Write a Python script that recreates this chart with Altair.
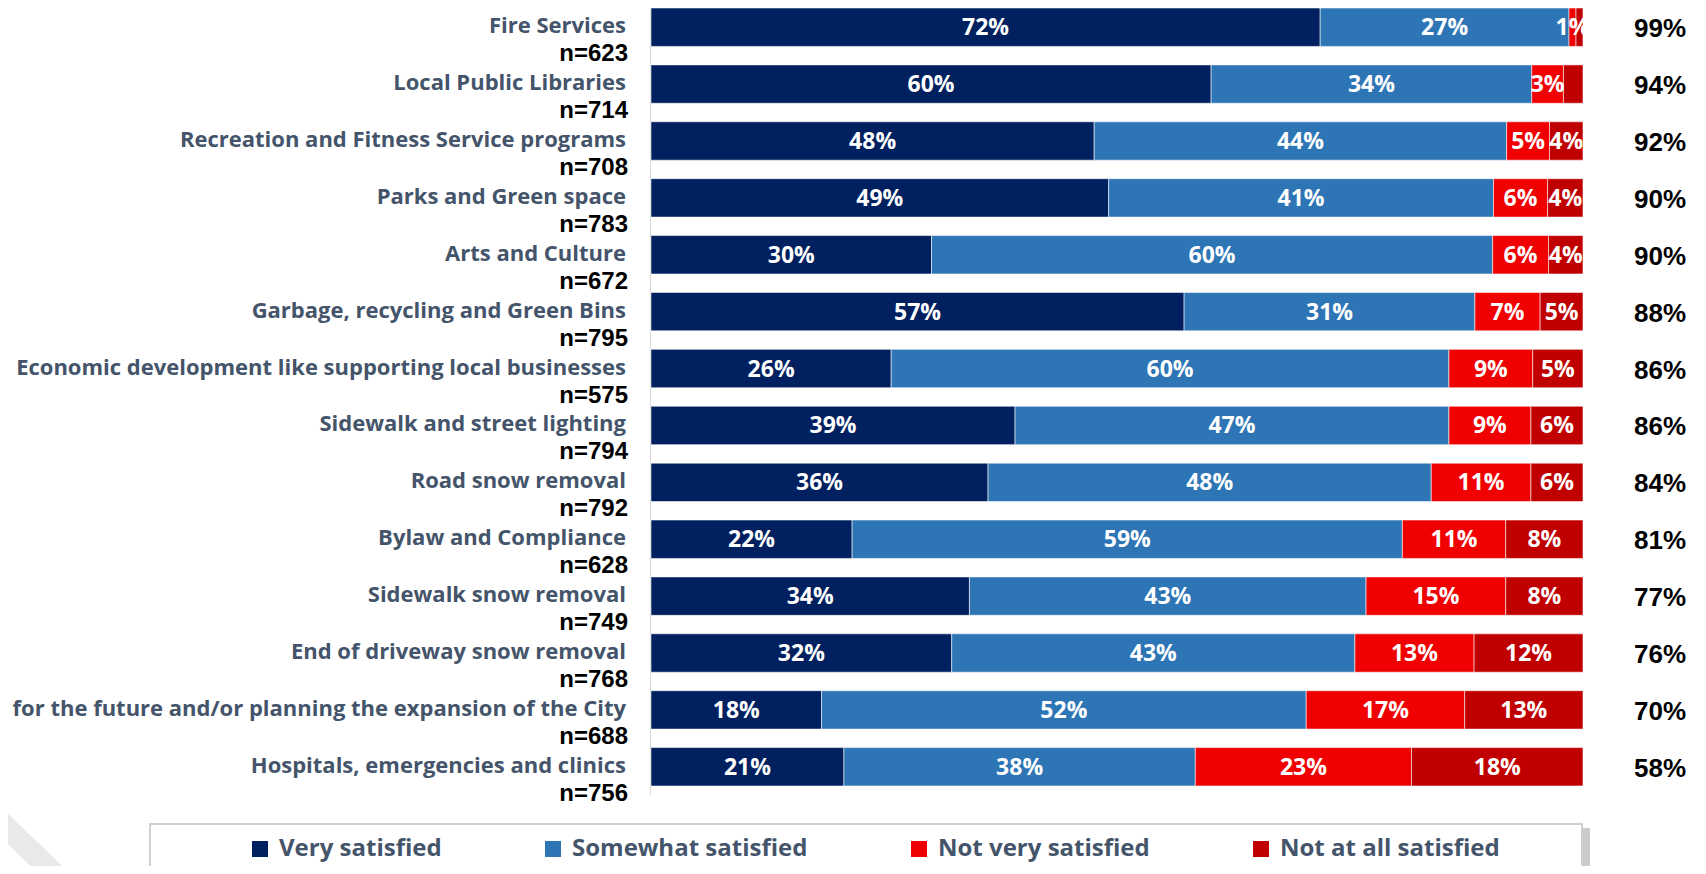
import altair as alt
import pandas as pd

categories = [
    "Fire Services",
    "Local Public Libraries",
    "Recreation and Fitness Service programs",
    "Parks and Green space",
    "Arts and Culture",
    "Garbage, recycling and Green Bins",
    "Economic development like supporting local businesses",
    "Sidewalk and street lighting",
    "Road snow removal",
    "Bylaw and Compliance",
    "Sidewalk snow removal",
    "End of driveway snow removal",
    "Planning for the future and/or planning the expansion of the City",
    "Hospitals, emergencies and clinics",
]
n_values = [623, 714, 708, 783, 672, 795, 575, 794, 792, 628, 749, 768, 688, 756]
very = [71.8, 60.1, 47.6, 49.1, 30.1, 57.2, 25.8, 39.1, 36.2, 21.6, 34.2, 32.3, 18.3, 20.7]
somewhat = [26.7, 34.4, 44.3, 41.3, 60.2, 31.2, 59.9, 46.6, 47.6, 59.1, 42.6, 43.3, 52.0, 37.7]
not_very = [0.75, 3.4, 4.6, 5.8, 6.0, 7.0, 9.0, 8.8, 10.7, 11.1, 15.0, 12.8, 17.0, 23.2]
not_at_all = [0.75, 2.1, 3.6, 3.8, 3.7, 4.6, 5.4, 5.6, 5.6, 8.3, 8.3, 11.7, 12.7, 18.4]
totals = [99, 94, 92, 90, 90, 88, 86, 86, 84, 81, 77, 76, 70, 58]

series = ["Very satisfied", "Somewhat satisfied", "Not very satisfied", "Not at all satisfied"]
colors = ["#002060", "#2E75B6", "#F00000", "#C00000"]

rows = []
for i, c in enumerate(categories):
    vals = [very[i], somewhat[i], not_very[i], not_at_all[i]]
    tot = sum(vals)
    start = 0.0
    for s, v in zip(series, vals):
        frac = v / tot * 100
        hidden = (s == series[3] and v < 2.5)
        rows.append(dict(cat=c, series=s, start=start, end=start + frac,
                         mid=start + frac / 2,
                         label="" if hidden else f"{round(v)}%"))
        start += frac
df = pd.DataFrame(rows)

df_lab = pd.DataFrame({
    "cat": categories,
    "n": [f"n={n}" for n in n_values],
    "total": [f"{t}%" for t in totals],
})

H = 778
W = 932
LABEL_FONT = "Open Sans"
yscale = alt.Scale(domain=categories, paddingInner=0.325, paddingOuter=0)
Y = alt.Y("cat:N", sort=categories, axis=None, scale=yscale)
xscale = alt.Scale(domain=[0, 100], nice=False, zero=False)

one = pd.DataFrame({"a": [0]})

shadow = alt.Chart(one).mark_rect(fill="#C4C4C4", opacity=0.9).encode(
    x=alt.value(931), x2=alt.value(939), y=alt.value(820), y2=alt.value(880)
)
box = alt.Chart(one).mark_rect(fill="white", stroke="#D0D0D0", strokeWidth=2).encode(
    x=alt.value(-501), x2=alt.value(931), y=alt.value(816), y2=alt.value(880)
)
watermark = alt.Chart(one).mark_rule(color="#E8E9EB", strokeWidth=22).encode(
    x=alt.value(-665), x2=alt.value(-590), y=alt.value(800), y2=alt.value(872)
)
axis_line = alt.Chart(one).mark_rule(color="#D9D9D9", strokeWidth=1).encode(
    x=alt.value(-0.5), y=alt.value(0), y2=alt.value(787)
)

bars = alt.Chart(df).mark_bar(stroke="white", strokeWidth=0.8, strokeOpacity=0.7).encode(
    x=alt.X("start:Q", scale=xscale, axis=None),
    x2="end:Q",
    y=Y,
    color=alt.Color(
        "series:N",
        sort=series,
        scale=alt.Scale(domain=series, range=colors),
        legend=alt.Legend(
            title=None,
            orient="none",
            legendX=-403,
            legendY=829,
            direction="horizontal",
            columns=4,
            symbolType="square",
            symbolSize=256,
            symbolStrokeWidth=0,
            labelFont=LABEL_FONT,
            labelFontSize=24,
            labelFontWeight="bold",
            labelColor="#44546A",
            labelOffset=7,
            labelLimit=0,
            columnPadding=99,
            padding=0,
        ),
    ),
)

bar_text = alt.Chart(df).mark_text(
    color="white", font=LABEL_FONT, fontSize=23, fontWeight="bold", baseline="middle",
    align="center", dy=1
).encode(
    x=alt.X("mid:Q", scale=xscale, axis=None),
    y=Y,
    text="label:N",
)

cat_text = alt.Chart(df_lab).mark_text(
    align="right", baseline="middle", font=LABEL_FONT, fontSize=22, fontWeight="bold",
    color="#44546A", dy=-1
).encode(x=alt.value(-25), y=Y, text="cat:N")

n_text = alt.Chart(df_lab).mark_text(
    align="right", baseline="middle", font="Liberation Sans", fontSize=24, fontWeight="bold",
    color="black", dy=27
).encode(x=alt.value(-23), y=Y, text="n:N")

tot_text = alt.Chart(df_lab).mark_text(
    align="center", baseline="middle", font="Liberation Sans", fontSize=26, fontWeight="bold",
    color="black", dy=2
).encode(x=alt.value(1009), y=Y, text="total:N")

chart = alt.layer(
    watermark, shadow, box, axis_line, bars, bar_text, cat_text, n_text, tot_text
).properties(
    width=W,
    height=H,
    autosize=alt.AutoSizeParams(type="none"),
    padding={"left": 643, "top": 0, "right": 113, "bottom": 80},
    background="white",
).configure_view(stroke=None)

chart.save("out.html", embed_options={"renderer": "svg", "actions": False})
